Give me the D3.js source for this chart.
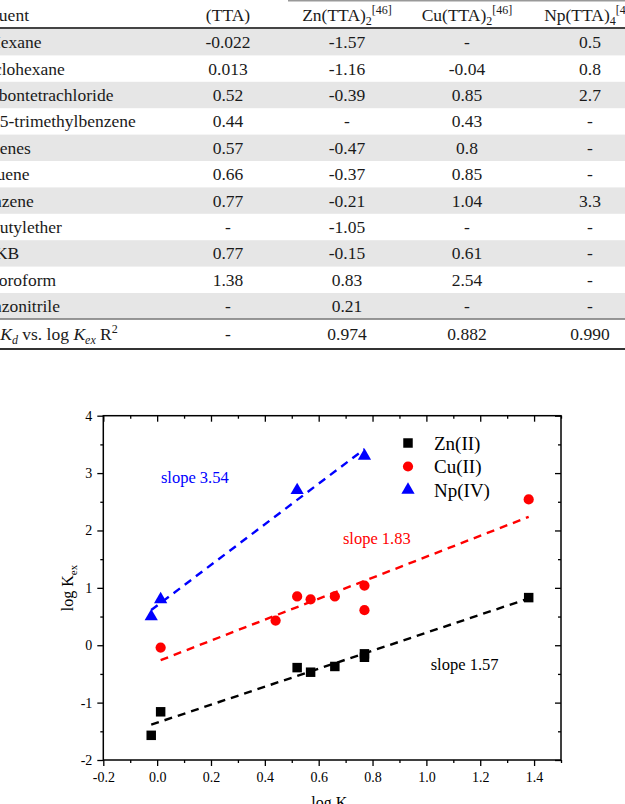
<!DOCTYPE html>
<html>
<head>
<meta charset="utf-8">
<script src="https://cdn.jsdelivr.net/npm/d3@7"></script>
<style>
  body { margin: 0; background: #fff; }
  svg { display: block; font-family: "Liberation Serif", "Times New Roman", serif; }
</style>
</head>
<body>
<div id="chart"></div>
<script>
const width = 625,
    height = 804;

// table data (log Kd of TTA and log Kex of the metal complexes)
const solvents = ["n-Hexane", "Cyclohexane", "Carbontetrachloride", "1,3,5-trimethylbenzene", "Xylenes",
    "Toluene", "Benzene", "Dibutylether", "MIKB", "Chloroform", "Benzonitrile"];
const logKdTTA = [-0.022, 0.013, 0.52, 0.44, 0.57, 0.66, 0.77, null, 0.77, 1.38, null];
const logKexZn = [-1.57, -1.16, -0.39, null, -0.47, -0.37, -0.21, -1.05, -0.15, 0.83, 0.21];
const logKexCu = [null, -0.04, 0.85, 0.43, 0.8, 0.85, 1.04, null, 0.61, 2.54, null];
const logKexNp = [0.5, 0.8, 2.7, null, null, null, 3.3, null, null, null, null];
const rSquared = [null, 0.974, 0.882, 0.990];

// chart ticks
const xTicks = [-0.2, 0.0, 0.2, 0.4, 0.6, 0.8, 1.0, 1.2, 1.4];
const xMinor = [-0.1, 0.1, 0.3, 0.5, 0.7, 0.9, 1.1, 1.3, 1.5];
const yTicks = [-2, -1, 0, 1, 2, 3, 4];
const yMinor = [-1.5, -0.5, 0.5, 1.5, 2.5, 3.5];

const seriesNames = ["Zn(II)", "Cu(II)", "Np(IV)"];
const seriesColors = ["#000000", "#ff0000", "#0000ff"];

const svg = d3.select("#chart")
  .append("svg")
  .attr("width", width)
  .attr("height", height)
  .attr("viewBox", [0, 0, width, height]);

// ---------- table ----------
const rowH = 26.4,
    rowTop = 29,
    firstX = -26.5,
    colX = [228, 347, 467, 590],
    tFont = 17.5,
    ink = "#1a1a1a";

const fmt = v => v == null ? "-" : String(v);

// gray bands on odd rows
svg.selectAll(".band")
  .data(solvents.filter((s, i) => i % 2 == 0))
  .enter().append("rect")
  .attr("class", "band")
  .attr("x", 0)
  .attr("y", (d, i) => rowTop + i * 2 * rowH)
  .attr("width", width)
  .attr("height", rowH)
  .attr("fill", "#e6e6e6");

// rules
svg.append("line").attr("x1", 288).attr("x2", width).attr("y1", 0.7).attr("y2", 0.7)
  .attr("stroke", "#999").attr("stroke-width", 1.4);
svg.append("line").attr("x1", 0).attr("x2", width).attr("y1", 28).attr("y2", 28)
  .attr("stroke", "#444").attr("stroke-width", 2);
svg.append("line").attr("x1", 0).attr("x2", width).attr("y1", rowTop + 11 * rowH - 0.5).attr("y2", rowTop + 11 * rowH - 0.5)
  .attr("stroke", "#777").attr("stroke-width", 1.5);
svg.append("line").attr("x1", 0).attr("x2", width).attr("y1", 349).attr("y2", 349)
  .attr("stroke", "#333").attr("stroke-width", 2);

// header
const header = svg.append("g")
  .attr("font-size", tFont)
  .attr("fill", ink);

header.append("text").attr("x", firstX + 3).attr("y", 21).text("Diluent");
header.append("text").attr("x", colX[0]).attr("y", 21).attr("text-anchor", "middle").text("(TTA)");

[["Zn(TTA)", "2"], ["Cu(TTA)", "2"], ["Np(TTA)", "4"]].forEach(function(h, i) {
    var t = header.append("text")
        .attr("x", colX[i + 1])
        .attr("y", 21)
        .attr("text-anchor", "middle");
    t.append("tspan").text(h[0]);
    t.append("tspan").attr("font-size", 12).attr("dy", 4).text(h[1]);
    t.append("tspan").attr("font-size", 12).attr("dy", -11).text("[46]");
});

// body rows
const rows = svg.selectAll(".row")
  .data(solvents)
  .enter().append("g")
  .attr("class", "row")
  .attr("font-size", tFont)
  .attr("fill", ink)
  .attr("transform", (d, i) => "translate(0," + (rowTop + i * rowH + rowH / 2 + 6) + ")");

rows.append("text").attr("x", firstX).text(d => d);

[logKdTTA, logKexZn, logKexCu, logKexNp].forEach(function(col, c) {
    rows.append("text")
        .attr("x", colX[c])
        .attr("text-anchor", "middle")
        .text((d, i) => fmt(col[i]));
});

// R squared row
const rY = 340;
const rl = svg.append("text")
  .attr("x", firstX)
  .attr("y", rY)
  .attr("font-size", tFont)
  .attr("fill", ink);
rl.append("tspan").text("log ");
rl.append("tspan").attr("font-style", "italic").text("K");
rl.append("tspan").attr("font-style", "italic").attr("font-size", 12).attr("dy", 4).text("d");
rl.append("tspan").attr("dy", -4).text(" vs. log ");
rl.append("tspan").attr("font-style", "italic").text("K");
rl.append("tspan").attr("font-style", "italic").attr("font-size", 12).attr("dy", 4).text("ex");
rl.append("tspan").attr("dy", -4).text(" R");
rl.append("tspan").attr("font-size", 12).attr("dy", -7).text("2");

svg.selectAll(".r2")
  .data(rSquared)
  .enter().append("text")
  .attr("class", "r2")
  .attr("x", (d, i) => colX[i])
  .attr("y", rY)
  .attr("text-anchor", "middle")
  .attr("font-size", tFont)
  .attr("fill", ink)
  .text(d => d == null ? "-" : d3.format(".3f")(d));

// ---------- chart ----------
const pLeft = 103.3, pRight = 561, pTop = 415.7, pBottom = 760;

const x = d3.scaleLinear().domain([-0.2, 1.5]).range([pLeft, pRight]);
const y = d3.scaleLinear().domain([-2, 4]).range([pBottom, pTop]);

const plot = svg.append("g");

function axisStyle(g, labels) {
    g.select(".domain").remove();
    g.selectAll("line").attr("stroke", "#000").attr("stroke-width", 1.3);
    g.selectAll("text")
        .attr("font-family", "Liberation Serif, Times New Roman, serif")
        .attr("font-size", 14)
        .attr("fill", "#000");
    if (!labels) g.selectAll("text").remove();
}

plot.append("g").attr("transform", "translate(0," + pBottom + ")")
  .call(d3.axisBottom(x).tickValues(xTicks).tickSize(6).tickPadding(6).tickFormat(d => d.toFixed(1)))
  .call(g => axisStyle(g, true));
plot.append("g").attr("transform", "translate(0," + pBottom + ")")
  .call(d3.axisBottom(x).tickValues(xMinor).tickSize(3))
  .call(g => axisStyle(g, false));
plot.append("g").attr("transform", "translate(0," + pTop + ")")
  .call(d3.axisTop(x).tickValues(xTicks).tickSize(-6))
  .call(g => axisStyle(g, false));
plot.append("g").attr("transform", "translate(0," + pTop + ")")
  .call(d3.axisTop(x).tickValues(xMinor).tickSize(-3))
  .call(g => axisStyle(g, false));

plot.append("g").attr("transform", "translate(" + pLeft + ",0)")
  .call(d3.axisLeft(y).tickValues(yTicks).tickSize(6).tickPadding(5).tickFormat(d => String(d)))
  .call(g => axisStyle(g, true));
plot.append("g").attr("transform", "translate(" + pLeft + ",0)")
  .call(d3.axisLeft(y).tickValues(yMinor).tickSize(3))
  .call(g => axisStyle(g, false));
plot.append("g").attr("transform", "translate(" + pRight + ",0)")
  .call(d3.axisRight(y).tickValues(yTicks).tickSize(-6))
  .call(g => axisStyle(g, false));
plot.append("g").attr("transform", "translate(" + pRight + ",0)")
  .call(d3.axisRight(y).tickValues(yMinor).tickSize(-3))
  .call(g => axisStyle(g, false));

plot.append("rect")
  .attr("x", pLeft).attr("y", pTop)
  .attr("width", pRight - pLeft).attr("height", pBottom - pTop)
  .attr("fill", "none").attr("stroke", "#000").attr("stroke-width", 1.5);

// axis titles
const yt = plot.append("text")
  .attr("transform", "translate(73," + 588 + ") rotate(-90)")
  .attr("text-anchor", "middle")
  .attr("font-size", 16);
yt.append("tspan").text("log K");
yt.append("tspan").attr("font-size", 11).attr("dy", 4).text("ex");

const xt = plot.append("text")
  .attr("x", 332).attr("y", 808)
  .attr("text-anchor", "middle")
  .attr("font-size", 16);
xt.append("tspan").text("log K");
xt.append("tspan").attr("font-size", 11).attr("dy", 4).text("d");

// series points
const series = [logKexZn, logKexCu, logKexNp].map(function(vals, s) {
    return {
        name: seriesNames[s],
        color: seriesColors[s],
        points: vals.map((v, i) => ({ x: logKdTTA[i], y: v }))
            .filter(p => p.x != null && p.y != null)
    };
});

const symbols = [d3.symbolSquare, d3.symbolCircle, d3.symbolTriangle];
const symSizes = [90, 82, 76];

// least squares fit
function fit(pts) {
    var mx = d3.mean(pts, p => p.x), my = d3.mean(pts, p => p.y);
    var sxy = d3.sum(pts, p => (p.x - mx) * (p.y - my));
    var sxx = d3.sum(pts, p => (p.x - mx) * (p.x - mx));
    var slope = sxy / sxx;
    return { slope: slope, b: my - slope * mx, x0: d3.min(pts, p => p.x), x1: d3.max(pts, p => p.x) };
}

series.forEach(function(s, i) {
    s.fit = fit(s.points);
    plot.append("line")
        .attr("x1", x(s.fit.x0))
        .attr("y1", y(s.fit.slope * s.fit.x0 + s.fit.b))
        .attr("x2", x(s.fit.x1))
        .attr("y2", y(s.fit.slope * s.fit.x1 + s.fit.b))
        .attr("stroke", s.color)
        .attr("stroke-width", 2.4)
        .attr("stroke-dasharray", "8,6");
});

series.forEach(function(s, i) {
    plot.selectAll(".pt" + i)
        .data(s.points)
        .enter().append("path")
        .attr("class", "pt" + i)
        .attr("d", d3.symbol().type(symbols[i]).size(symSizes[i]))
        .attr("transform", d => "translate(" + x(d.x) + "," + y(d.y) + ")")
        .attr("fill", s.color);
});

// slope labels (anchored in data coordinates)
const slopeAt = [[1.016, -0.435], [0.69, 1.77], [0.014, 2.82]];
series.forEach(function(s, i) {
    plot.append("text")
        .attr("x", x(slopeAt[i][0]))
        .attr("y", y(slopeAt[i][1]))
        .attr("font-size", 16.5)
        .attr("fill", s.color)
        .text("slope " + s.fit.slope.toFixed(2));
});

// legend
const legend = plot.append("g").attr("transform", "translate(408,443)");
series.forEach(function(s, i) {
    legend.append("path")
        .attr("d", d3.symbol().type(symbols[i]).size(symSizes[i]))
        .attr("transform", "translate(0," + (i * 23.5) + ")")
        .attr("fill", s.color);
    legend.append("text")
        .attr("x", 26)
        .attr("y", i * 23.5 + 6.5)
        .attr("font-size", 19)
        .attr("fill", "#000")
        .text(s.name);
});
</script>
</body>
</html>
